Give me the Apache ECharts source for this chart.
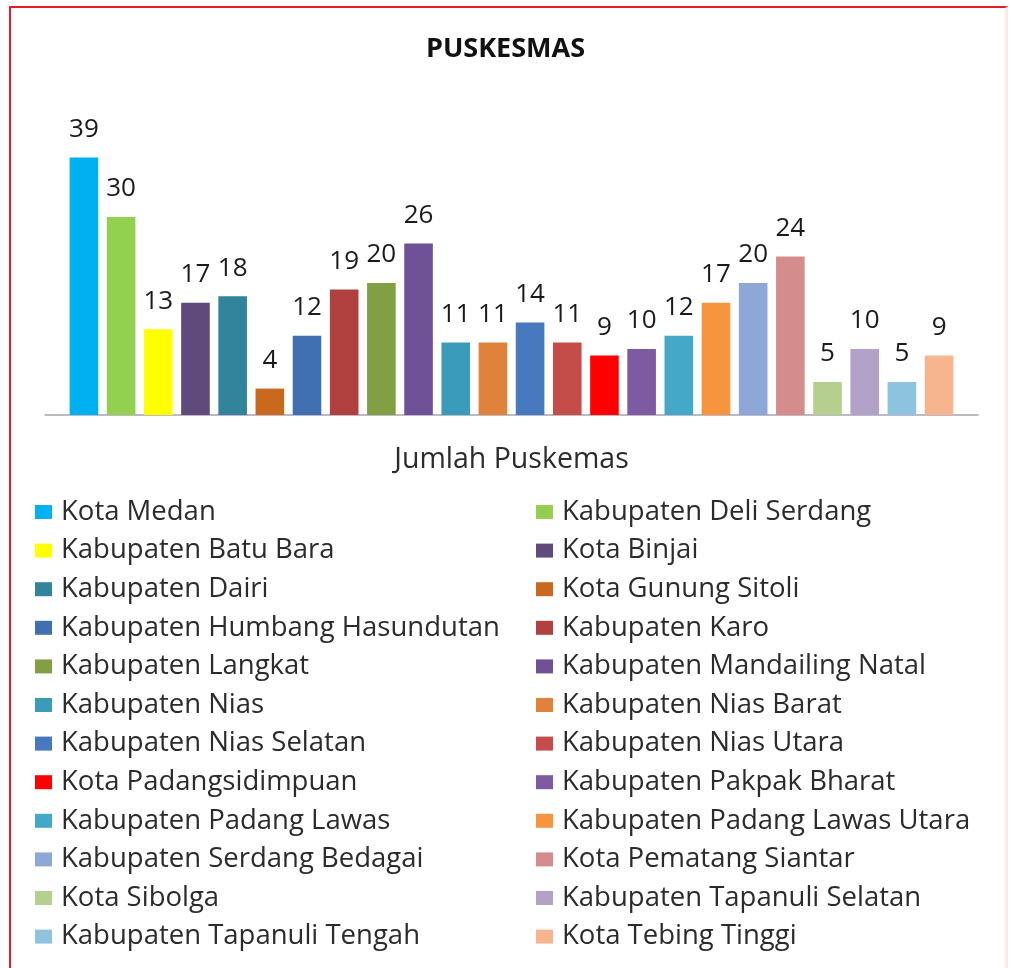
<!DOCTYPE html>
<html>
<head>
<meta charset="utf-8">
<script src="https://cdn.jsdelivr.net/npm/echarts@6/dist/echarts.min.js"></script>
<style>
  html, body { margin: 0; padding: 0; background: #fff; }
  #wrap { position: relative; width: 1011px; height: 968px; overflow: hidden; }
  #frame { position: absolute; left: 9px; top: 6px; width: 994px; height: 980px;
           border-left: 2px solid #e51c23; border-top: 2px solid #e51c23; border-right: 3px solid #fde8e4; }
  #chart { position: absolute; left: 0; top: 0; width: 1011px; height: 968px; }
</style>
</head>
<body>
<div id="wrap">
  <div id="frame"></div>
  <div id="chart"></div>
</div>
<script>
const categories = ["Jumlah Puskemas"];
const regions = [
  "Kota Medan", "Kabupaten Deli Serdang", "Kabupaten Batu Bara", "Kota Binjai",
  "Kabupaten Dairi", "Kota Gunung Sitoli", "Kabupaten Humbang Hasundutan", "Kabupaten Karo",
  "Kabupaten Langkat", "Kabupaten Mandailing Natal", "Kabupaten Nias", "Kabupaten Nias Barat",
  "Kabupaten Nias Selatan", "Kabupaten Nias Utara", "Kota Padangsidimpuan", "Kabupaten Pakpak Bharat",
  "Kabupaten Padang Lawas", "Kabupaten Padang Lawas Utara", "Kabupaten Serdang Bedagai", "Kota Pematang Siantar",
  "Kota Sibolga", "Kabupaten Tapanuli Selatan", "Kabupaten Tapanuli Tengah", "Kota Tebing Tinggi"
];
const values = [39, 30, 13, 17, 18, 4, 12, 19, 20, 26, 11, 11, 14, 11, 9, 10, 12, 17, 20, 24, 5, 10, 5, 9];
const colors = [
  "#00b0f0", "#92d050", "#ffff00", "#604a7b",
  "#31849b", "#c8691e", "#4170b0", "#b0413e",
  "#82a043", "#6e5196", "#3a9bba", "#e0823a",
  "#4679bd", "#c44c49", "#ff0000", "#7e5aa3",
  "#44a9c8", "#f7943e", "#8da7d6", "#d48c8c",
  "#b5cf8f", "#b3a2c7", "#8dc3dc", "#f7b58f"
];
const FONT = "Open Sans";

const chart = echarts.init(document.getElementById('chart'), null, { renderer: 'canvas' });

const series = regions.map((name, i) => ({
  name: name,
  type: 'bar',
  data: [values[i]],
  barWidth: 28.6,
  barGap: '30%',
  itemStyle: { color: colors[i] },
  label: {
    show: true,
    position: 'top',
    distance: 15,
    fontFamily: FONT,
    fontSize: 26,
    color: '#1a1a1a'
  },
  emphasis: { disabled: true },
  animation: false
}));

const legendBase = {
  orient: 'vertical',
  padding: 0,
  itemWidth: 17,
  itemHeight: 14,
  itemGap: 10.6,
  icon: 'rect',
  textStyle: { fontFamily: FONT, fontSize: 27.5, color: '#2b2b2b', lineHeight: 28, padding: [0, 0, 0, 4] },
  selectedMode: false
};

chart.setOption({
  animation: false,
  backgroundColor: 'transparent',
  title: {
    text: 'PUSKESMAS',
    left: 'center',
    top: 29,
    textStyle: { fontFamily: FONT, fontSize: 27, fontWeight: 'bold', color: '#111', lineHeight: 30 }
  },
  grid: { left: 45, right: 33, top: 151, bottom: 553, containLabel: false },
  xAxis: {
    type: 'category',
    data: categories,
    axisLine: { show: true, lineStyle: { color: '#a8a4b4', width: 1.5 } },
    axisTick: { show: false },
    axisLabel: { margin: 30, fontFamily: FONT, fontSize: 28.5, color: '#2b2b2b', lineHeight: 30 }
  },
  yAxis: {
    type: 'value',
    min: 0, max: 40, interval: 10,
    show: false,
    splitLine: { show: false }
  },
  legend: [
    Object.assign({}, legendBase, { left: 35, top: 498, data: regions.filter((_, i) => i % 2 === 0) }),
    Object.assign({}, legendBase, { left: 536, top: 498, data: regions.filter((_, i) => i % 2 === 1) })
  ],
  series: series
});
</script>
</body>
</html>
